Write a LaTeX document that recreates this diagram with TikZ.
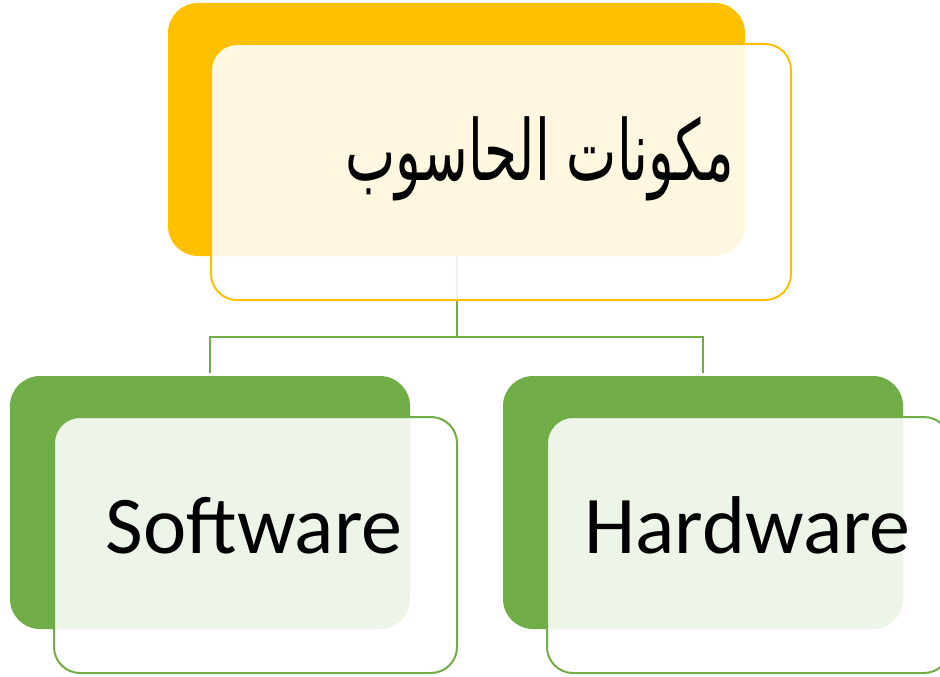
\documentclass[tikz,border=0pt]{standalone}
\usepackage{fontspec}
\setmainfont{Carlito}
\newfontfamily\arabicfont[Script=Arabic]{DejaVu Sans}
\TeXXeTstate=1
\definecolor{myyellow}{HTML}{FFC000}
\definecolor{mygreen}{HTML}{70AD47}
\tikzset{
  backbox/.style={rectangle, rounded corners=30pt, inner sep=0pt, draw=none},
  frontbox/.style={rectangle, rounded corners=26pt, inner sep=0pt, fill=white, fill opacity=0.88, line width=2pt},
  conn/.style={draw=mygreen, line width=2pt},
  lbl/.style={inner sep=0pt, text=black, font=\fontsize{82}{98}\selectfont}
}
\begin{document}
\begin{tikzpicture}[x=1pt,y=-1pt]
\useasboundingbox (0,0) rectangle (940,677);
\clip (0,0) rectangle (940,677);
% back boxes
\node[backbox, fill=myyellow, minimum width=577pt, minimum height=253pt] (tb) at (456.5,129.5) {};
\node[backbox, fill=mygreen, minimum width=400pt, minimum height=253pt] (lb) at (210,502.5) {};
\node[backbox, fill=mygreen, minimum width=400pt, minimum height=253pt] (rb) at (703,502.5) {};
% connectors
\coordinate (j) at (456.5,337);
\draw[conn] (tb.south) -- (j);
\draw[conn, shorten >=3pt] (j) -| (lb.north);
\draw[conn, shorten >=3pt] (j) -| (rb.north);
% front boxes
\node[frontbox, draw=myyellow, minimum width=580pt, minimum height=256pt] (tf) at (501,172) {};
\node[frontbox, draw=mygreen, minimum width=403pt, minimum height=256pt] (lf) at (255.5,545) {};
\node[frontbox, draw=mygreen, minimum width=403pt, minimum height=256pt] (rf) at (748.5,545) {};
% labels
\node[lbl, anchor=base east, font=\arabicfont\fontsize{84}{100}\selectfont] (tt) at (734,180) {\scalebox{0.635}[1]{\beginR مكونات الحاسوب\endR}};
\node[lbl, anchor=base] (lt) at (254,553) {Software};
\node[lbl, anchor=base] (rt) at (747.5,553) {Hardware};
\end{tikzpicture}
\end{document}
